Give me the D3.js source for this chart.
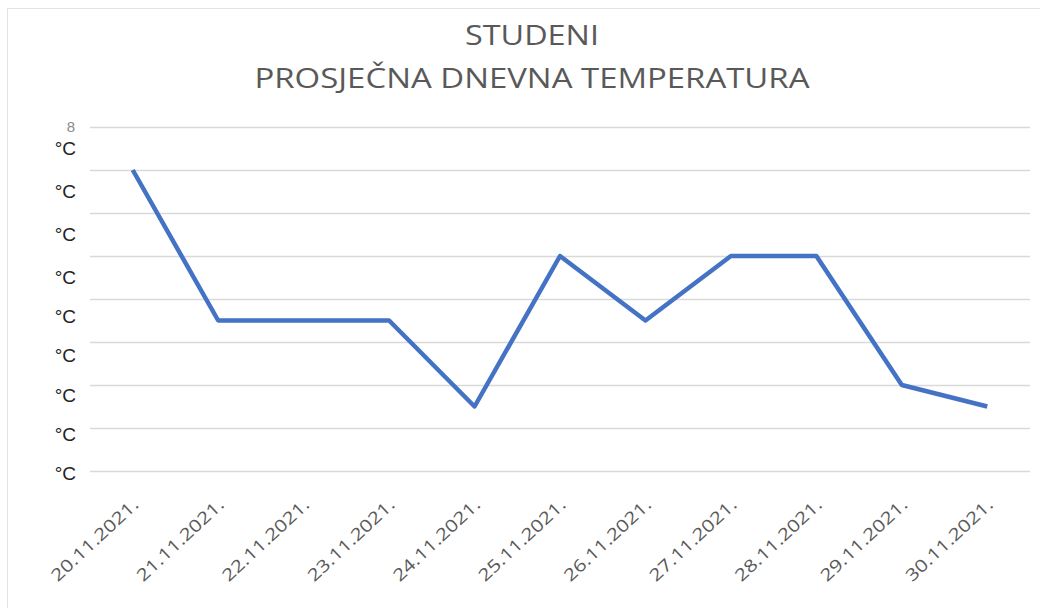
<!DOCTYPE html>
<html>
<head>
<meta charset="utf-8">
<script src="https://cdn.jsdelivr.net/npm/d3@7"></script>
<style>
  body { margin: 0; background: #fff; }
  svg { display: block; }
</style>
</head>
<body>
<div id="chart"></div>
<script>
// data
var dates = ["20.11.2021.", "21.11.2021.", "22.11.2021.", "23.11.2021.", "24.11.2021.", "25.11.2021.",
             "26.11.2021.", "27.11.2021.", "28.11.2021.", "29.11.2021.", "30.11.2021."];
var temps = [7, 3.5, 3.5, 3.5, 1.5, 5, 3.5, 5, 5, 2, 1.5];
var yTicks = [0, 1, 2, 3, 4, 5, 6, 7, 8];
var titleLines = ["STUDENI", "PROSJEČNA DNEVNA TEMPERATURA"];

var width = 1040, height = 608;
var margin = { left: 90, right: 10, top: 127, bottom: 137 };

var svg = d3.select("#chart").append("svg")
    .attr("width", width)
    .attr("height", height);

// chart frame
svg.append("rect")
    .attr("x", 7.5).attr("y", 8.5)
    .attr("width", width + 10).attr("height", height + 10)
    .attr("fill", "#fff")
    .attr("stroke", "#e3e3e3");

var x = d3.scalePoint()
    .domain(dates)
    .range([margin.left, width - margin.right])
    .padding(0.5);

var y = d3.scaleLinear()
    .domain([0, 8])
    .range([height - margin.bottom, margin.top]);

// gridlines
svg.append("g")
    .selectAll("line")
    .data(yTicks)
    .enter().append("line")
    .attr("x1", margin.left)
    .attr("x2", width - margin.right)
    .attr("y1", function(d){ return y(d) + 0.5; })
    .attr("y2", function(d){ return y(d) + 0.5; })
    .attr("stroke", "#d9d9d9")
    .attr("stroke-width", 1.5);

// y labels - the picture shows them mostly clipped, only "8" and the units
var yl = svg.append("g").attr("font-family", "'Liberation Sans', sans-serif");
yl.selectAll("text.num")
    .data(yTicks.filter(function(d){ return d == 8; }))
    .enter().append("text")
    .attr("class", "num")
    .attr("x", 75)
    .attr("y", function(d){ return y(d) + 5; })
    .attr("text-anchor", "end")
    .attr("font-size", 15)
    .attr("fill", "#8a8a8a")
    .text(function(d){ return d; });

yl.selectAll("text.unit")
    .data(yTicks)
    .enter().append("text")
    .attr("class", "unit")
    .attr("x", 76)
    .attr("y", function(d){ return y(d) + 9 + Math.min(d, 5) * 3.8; })
    .attr("text-anchor", "end")
    .attr("font-size", 19)
    .attr("fill", "#222")
    .text("°C");

// x labels rotated
svg.append("g")
    .selectAll("text")
    .data(dates)
    .enter().append("text")
    .attr("transform", function(d){ return "translate(" + (x(d) + 7) + "," + (height - margin.bottom + 35) + ") rotate(-43)"; })
    .attr("text-anchor", "end")
    .attr("font-family", "'Open Sans', sans-serif")
    .attr("font-size", 17)
    .attr("fill", "#595959")
    .attr("textLength", 112)
    .attr("lengthAdjust", "spacingAndGlyphs")
    .text(function(d){ return d; });

// the line
var line = d3.line()
    .x(function(d, i){ return x(dates[i]); })
    .y(function(d){ return y(d); });

svg.append("path")
    .datum(temps)
    .attr("d", line)
    .attr("fill", "none")
    .attr("stroke", "#4472C4")
    .attr("stroke-width", 4.5)
    .attr("stroke-linejoin", "round");

// title
svg.append("g")
    .selectAll("text")
    .data(titleLines)
    .enter().append("text")
    .attr("x", 532)
    .attr("y", function(d, i){ return 45 + i * 43; })
    .attr("text-anchor", "middle")
    .attr("font-family", "'Open Sans', sans-serif")
    .attr("font-size", 27)
    .attr("fill", "#595959")
    .attr("textLength", function(d, i){ return i == 0 ? 134 : 555; })
    .attr("lengthAdjust", "spacingAndGlyphs")
    .text(function(d){ return d; });
</script>
</body>
</html>
